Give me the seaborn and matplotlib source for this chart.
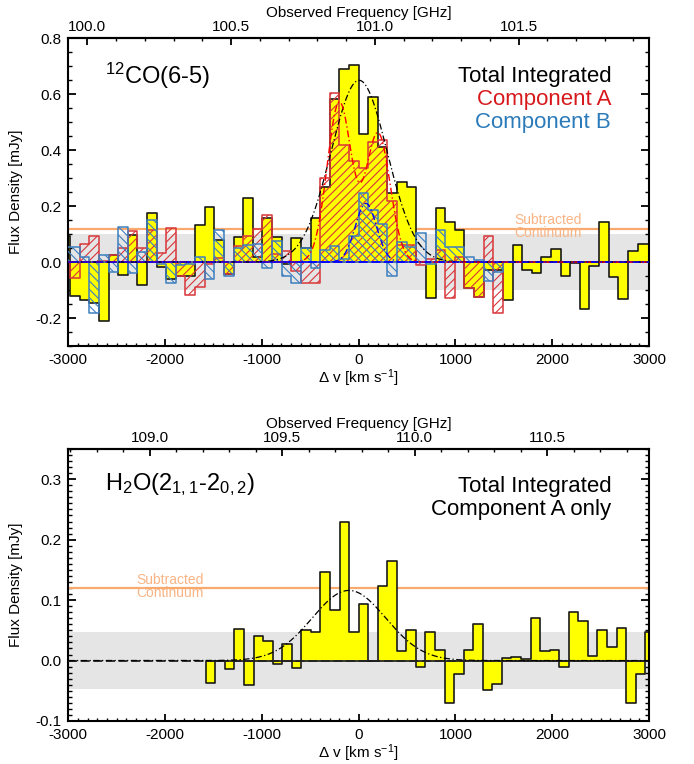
import numpy as np
import pandas as pd
import matplotlib
matplotlib.use("Agg")
import matplotlib.pyplot as plt
import seaborn as sns
from matplotlib.ticker import MultipleLocator, FormatStrFormatter

sns.set_style("ticks")
plt.rcParams.update({
    "font.family": ["Liberation Sans", "DejaVu Sans"],
    "mathtext.default": "regular",
    "axes.unicode_minus": False,
    "hatch.linewidth": 0.8,
    "axes.linewidth": 1.5,
    "axes.edgecolor": "black",
    "text.color": "black",
    "axes.labelcolor": "black",
    "xtick.color": "black",
    "ytick.color": "black",
})

# ---------------- data: 12CO(6-5) ----------------
co_chan_width = 99.4                       # km/s
co_chan_index = np.arange(-30.5, 31.0)     # channel centres in units of channel width
co_total = [0.095, -0.120, -0.137, -0.145, -0.212, 0.026, -0.046, 0.096, -0.082, 0.175,
            -0.018, -0.060, -0.050, -0.050, 0.133, 0.197, 0.080, -0.043, 0.090, 0.228,
            0.018, 0.156, 0.089, -0.006, 0.086, 0.050, 0.158, 0.270, 0.582, 0.690,
            0.705, 0.458, 0.592, 0.413, 0.246, 0.287, 0.269, 0.000, -0.127, 0.192,
            0.145, 0.115, -0.093, -0.123, -0.030, -0.030, -0.135, 0.061, -0.028, -0.038,
            0.017, 0.047, -0.049, -0.004, -0.167, -0.014, 0.144, -0.053, -0.131, 0.041,
            0.063, 0.063]
# Component A: channels 1..45 of the grid above
co_compA = [-0.057, 0.065, 0.092, 0.005, 0.026, 0.050, 0.113, 0.052, 0.115, 0.031,
            0.123, -0.050, -0.119, -0.090, -0.005, 0.014, -0.042, 0.056, 0.095, 0.119,
            0.167, 0.030, 0.040, -0.031, -0.075, -0.075, 0.300, 0.604, 0.420, 0.360,
            0.336, 0.430, 0.437, 0.220, 0.060, 0.060, -0.010, 0.011, 0.044, -0.129,
            0.018, -0.093, -0.123, 0.093, -0.182]
# Component B: channels 0..45 of the grid above
co_compB = [0.053, 0.053, 0.018, -0.181, 0.025, -0.037, 0.124, -0.040, 0.037, 0.150,
            -0.005, -0.074, -0.010, -0.005, 0.018, -0.060, 0.115, -0.049, 0.050, 0.060,
            0.064, -0.020, 0.077, -0.050, -0.075, 0.052, -0.020, 0.044, 0.056, 0.010,
            0.092, 0.246, 0.185, 0.137, -0.050, 0.072, 0.055, 0.105, -0.005, 0.115,
            0.054, 0.054, 0.020, 0.006, -0.067, -0.035]
# Gaussian fit parameters (amplitude mJy, centre km/s, sigma km/s)
co_fit_total = (0.65, 5.0, 290.0)
co_fit_A = [(0.57, -200.0, 125.0), (0.46, 200.0, 125.0)]
co_fit_B = (0.21, 75.0, 110.0)

# ---------------- data: H2O(2_11-2_02) ----------------
h2o_chan_width = 98.7
h2o_chan_index = np.arange(-15.5, 31.0)
h2o_total = [-0.037, -0.001, -0.014, 0.053, -0.040, 0.040, 0.033, -0.006, 0.028, -0.012,
             0.051, 0.047, 0.147, 0.083, 0.230, 0.047, 0.094, 0.000, 0.123, 0.164,
             0.015, 0.050, -0.011, 0.048, 0.018, -0.070, -0.022, 0.017, 0.061, -0.049,
             -0.038, 0.005, 0.006, 0.002, 0.070, 0.015, 0.018, -0.011, 0.080, 0.065,
             0.007, 0.050, 0.023, 0.054, -0.071, -0.022, 0.047]
h2o_fit = (0.116, -100.0, 380.0)

continuum_level = 0.12
co_noise = 0.10
h2o_noise = 0.047

co_freq_ticks = [100.0, 100.5, 101.0, 101.5]
h2o_freq_ticks = [109.0, 109.5, 110.0, 110.5]

# ---------------- styling ----------------
YELLOW = "#ffff00"
RED = "#d9363a"
BLUE = "#3d7fc0"
ORANGE = "#f9a86e"
ORANGE_TXT = "#fab484"
GREY = "#e5e5e5"
DASHDOT = (0, (5, 2, 1, 2))


def gauss(v, amp, mu, sig):
    return amp * np.exp(-0.5 * ((v - mu) / sig) ** 2)


def step_hist(ax, centres, values, width, color, edgecolor, lw, zorder,
              hatch=None, filled=True):
    centres = np.asarray(centres)
    edges = [float(e) for e in np.append(centres - width / 2, centres[-1] + width / 2)]
    df = pd.DataFrame({"v": centres, "f": values})
    sns.histplot(data=df, x="v", weights="f", bins=edges, element="step",
                 fill=True, ax=ax, color=color, alpha=1.0, edgecolor=edgecolor,
                 linewidth=lw, zorder=zorder)
    art = ax.collections[-1]
    if not filled:
        art.set_facecolor("none")
    if hatch:
        art.set_hatch(hatch)
    return art


def style_axes(ax, ymajor, yminor):
    ax.set_xlim(-3000, 3000)
    ax.xaxis.set_major_locator(MultipleLocator(1000))
    ax.xaxis.set_minor_locator(MultipleLocator(100))
    ax.yaxis.set_major_locator(MultipleLocator(ymajor))
    ax.yaxis.set_minor_locator(MultipleLocator(yminor))
    ax.yaxis.set_major_formatter(FormatStrFormatter("%.1f"))
    ax.tick_params(axis="both", which="both", direction="in", top=False,
                   right=True, left=True, bottom=True, labelsize=11, colors="black")
    ax.tick_params(axis="y", which="major", length=6, width=1.3, pad=5)
    ax.tick_params(axis="y", which="minor", length=3, width=1.0)
    ax.tick_params(axis="x", which="major", length=5, width=1.3, pad=5)
    ax.tick_params(axis="x", which="minor", length=2.5, width=1.0)
    for s in ax.spines.values():
        s.set_linewidth(1.5)
        s.set_color("black")
        s.set_visible(True)
    ax.set_xlabel("\u0394 v [km s$^{-1}$]", fontsize=11, labelpad=0)
    ax.set_ylabel("Flux Density [mJy]", fontsize=11, labelpad=9,
                  family=["Liberation Sans Narrow", "Liberation Sans"])


def add_freq_axis(ax, f_ref, v_ref, dv_per_ghz, ticks):
    sec = ax.secondary_xaxis(
        "top",
        functions=(lambda v: f_ref + (v - v_ref) / dv_per_ghz,
                   lambda f: v_ref + (f - f_ref) * dv_per_ghz))
    sec.set_xticks(ticks)
    sec.xaxis.set_minor_locator(MultipleLocator(0.1))
    sec.xaxis.set_major_formatter(FormatStrFormatter("%.1f"))
    sec.tick_params(which="both", direction="in", labelsize=11, pad=3, colors="black")
    sec.tick_params(which="major", length=5, width=1.3)
    sec.tick_params(which="minor", length=2.5, width=1.0)
    sec.set_xlabel("Observed Frequency [GHz]", fontsize=11, labelpad=2)
    sec.spines["top"].set_linewidth(1.5)
    return sec


fig = plt.figure(figsize=(6.94, 7.64), dpi=100)
ax1 = fig.add_axes([0.0984, 0.5471, 0.8367, 0.4027])
ax2 = fig.add_axes([0.0984, 0.0563, 0.8367, 0.3560])

vgrid = np.linspace(-3000, 3000, 1201)

# ================= top panel =================
co_vel = co_chan_width * co_chan_index
ax1.axhspan(-co_noise, co_noise, color=GREY, zorder=0, lw=0)
ax1.axhline(continuum_level, color=ORANGE, lw=1.6, zorder=1)

step_hist(ax1, co_vel, co_total, co_chan_width, YELLOW, "#1a1a1a", 1.2, 2)
step_hist(ax1, co_vel[1:1 + len(co_compA)], co_compA, co_chan_width, RED, RED,
          1.1, 3, hatch="////", filled=False)
step_hist(ax1, co_vel[0:len(co_compB)], co_compB, co_chan_width, BLUE, BLUE,
          1.1, 4, hatch="\\\\\\\\", filled=False)

ax1.axhline(0, color="#0000ff", lw=1.3, ls=(0, (5, 2)), zorder=5)
fitA = sum(gauss(vgrid, *p) for p in co_fit_A)
sns.lineplot(x=vgrid, y=gauss(vgrid, *co_fit_total), ax=ax1, color="black",
             linewidth=0.9, linestyle=DASHDOT, zorder=6)
sns.lineplot(x=vgrid, y=fitA, ax=ax1, color="#ff0000", linewidth=1.0,
             linestyle=DASHDOT, zorder=6)
sns.lineplot(x=vgrid, y=gauss(vgrid, *co_fit_B), ax=ax1, color="#0000ff",
             linewidth=1.0, linestyle=DASHDOT, zorder=6)

ax1.set_ylim(-0.3, 0.8)
style_axes(ax1, 0.2, 0.05)
add_freq_axis(ax1, 101.0, 167.0, 2970.0, co_freq_ticks)

t = ax1.transAxes
ax1.text(0.063, 0.877, "$^{12}$CO(6-5)", transform=t, fontsize=17, va="center", ha="left",
         color="black")
ax1.text(0.935, 0.877, "Total Integrated", transform=t, fontsize=16, va="center", ha="right",
         color="black")
ax1.text(0.935, 0.801, "Component A", transform=t, fontsize=16, va="center", ha="right",
         color="#d7191c")
ax1.text(0.935, 0.728, "Component B", transform=t, fontsize=16, va="center", ha="right",
         color="#2b7bba")
ax1.text(0.7675, 0.388, "Subtracted\nContinuum", transform=t, fontsize=10, va="center",
         ha="left", linespacing=0.85, color=ORANGE_TXT, zorder=7)

# ================= bottom panel =================
h2o_vel = h2o_chan_width * h2o_chan_index
ax2.axhspan(-h2o_noise, h2o_noise, color=GREY, zorder=0, lw=0)
ax2.axhline(continuum_level, color=ORANGE, lw=1.6, zorder=1)
step_hist(ax2, h2o_vel, h2o_total, h2o_chan_width, YELLOW, "#1a1a1a", 1.2, 2)
ax2.axhline(0, color="#222222", lw=1.3, ls=(0, (5, 2)), zorder=5)
sns.lineplot(x=vgrid, y=gauss(vgrid, *h2o_fit), ax=ax2, color="black",
             linewidth=0.9, linestyle=DASHDOT, zorder=6)

ax2.set_ylim(-0.1, 0.35)
style_axes(ax2, 0.1, 0.01)
add_freq_axis(ax2, 110.0, 580.0, 2737.0, h2o_freq_ticks)

t2 = ax2.transAxes
ax2.text(0.063, 0.868, "H$_2$O(2$_{1,1}$-2$_{0,2}$)", transform=t2, fontsize=17,
         va="center", ha="left", color="black")
ax2.text(0.935, 0.861, "Total Integrated", transform=t2, fontsize=16, va="center", ha="right",
         color="black")
ax2.text(0.935, 0.778, "Component A only", transform=t2, fontsize=16, va="center", ha="right",
         color="black")
ax2.text(0.1178, 0.4945, "Subtracted\nContinuum", transform=t2, fontsize=10, va="center",
         ha="left", linespacing=0.85, color=ORANGE_TXT, zorder=7)

fig.savefig("out.png", dpi=100)
